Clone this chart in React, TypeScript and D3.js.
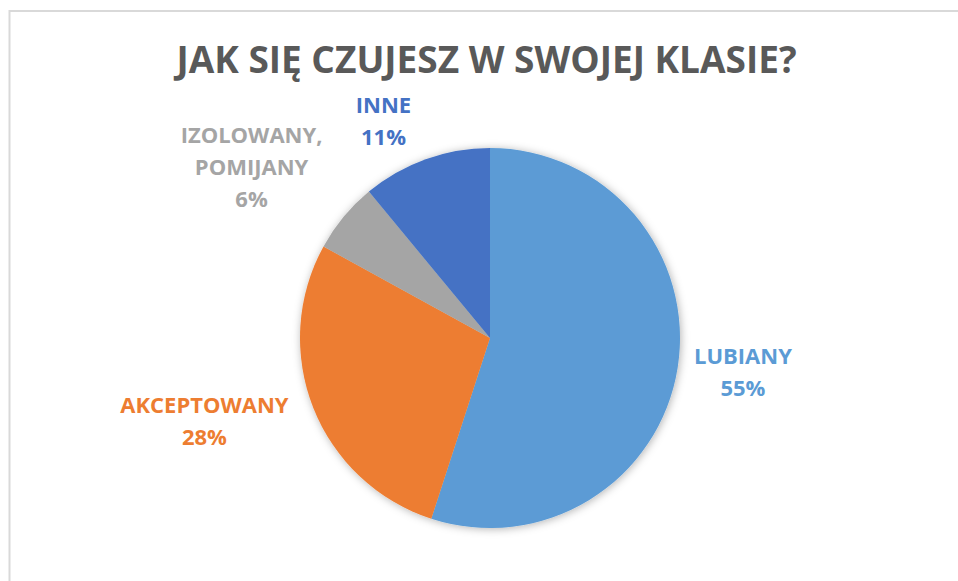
import React, { useEffect, useRef } from "react";
import * as d3 from "d3";

const categories = ["LUBIANY", "AKCEPTOWANY", "IZOLOWANY, POMIJANY", "INNE"];
const labelLines = [["LUBIANY"], ["AKCEPTOWANY"], ["IZOLOWANY,", "POMIJANY"], ["INNE"]];
const values = [55, 28, 6, 11];
const colors = ["#5B9BD5", "#ED7D31", "#A5A5A5", "#4472C4"];
const labelNudge = [[-3, -3], [-12, -3], [-22, -12], [-26, 3]];
const title = "JAK SIĘ CZUJESZ W SWOJEJ KLASIE?";

const W = 958;
const H = 581;

export default function App() {
  const ref = useRef<SVGSVGElement | null>(null);

  useEffect(() => {
    const svg = d3.select(ref.current);
    svg.selectAll("*").remove();

    const defs = svg.append("defs");
    const f = defs.append("filter").attr("id", "pieShadow").attr("x", "-20%").attr("y", "-20%").attr("width", "140%").attr("height", "140%");
    f.append("feDropShadow").attr("dx", 1).attr("dy", 1).attr("stdDeviation", 4).attr("flood-color", "#000").attr("flood-opacity", 0.3);

    svg.append("rect").attr("x", 0).attr("y", 0).attr("width", W).attr("height", H).attr("fill", "#fff");
    svg.append("rect").attr("x", 9.5).attr("y", 11).attr("width", W + 20).attr("height", H + 20)
      .attr("fill", "none").attr("stroke", "#d9d9d9").attr("stroke-width", 2);

    svg.append("text").attr("x", 486.5).attr("y", 73).attr("text-anchor", "middle")
      .attr("font-family", "'Open Sans', sans-serif").attr("font-weight", 700).attr("font-size", 37)
      .attr("fill", "#595959").text(title);

    const cx = 490, cy = 338, r = 190;
    const pie = d3.pie<number>().sort(null).value((d) => d);
    const arcs = pie(values);
    const arc = d3.arc<d3.PieArcDatum<number>>().innerRadius(0).outerRadius(r);

    const g = svg.append("g").attr("transform", `translate(${cx},${cy})`);
    g.append("g").attr("filter", "url(#pieShadow)")
      .selectAll("path").data(arcs).enter().append("path")
      .attr("d", arc as any).attr("fill", (_, i) => colors[i]);

    const fs = 22;
    const lh = 32;
    const lg = g.append("g");
    arcs.forEach((a, i) => {
      const lines = [...labelLines[i], `${values[i]}%`];
      const mid = (a.startAngle + a.endAngle) / 2;
      const dx = Math.sin(mid), dy = -Math.cos(mid);
      const t = lg.append("text").attr("text-anchor", "middle")
        .attr("font-family", "'Open Sans', sans-serif").attr("font-weight", 700).attr("font-size", fs)
        .attr("fill", colors[i]);
      lines.forEach((l, j) => t.append("tspan").attr("x", 0).attr("dy", j === 0 ? 0 : lh).text(l));
      const bb = (t.node() as SVGTextElement).getBBox();
      const w = bb.width;
      const h = (lines.length - 1) * lh + fs * 0.75;
      const R = 210;
      const bx = dx * R + dx * w / 2 + labelNudge[i][0];
      const by = dy * R + dy * h / 2 + labelNudge[i][1];
      const topBaseline = by - h / 2 + fs * 0.75;
      t.attr("transform", `translate(${bx},${topBaseline})`);
    });
    void categories;
  }, []);

  return (
    <svg ref={ref} width={W} height={H} style={{ position: "absolute", left: 0, top: 0 }} />
  );
}
